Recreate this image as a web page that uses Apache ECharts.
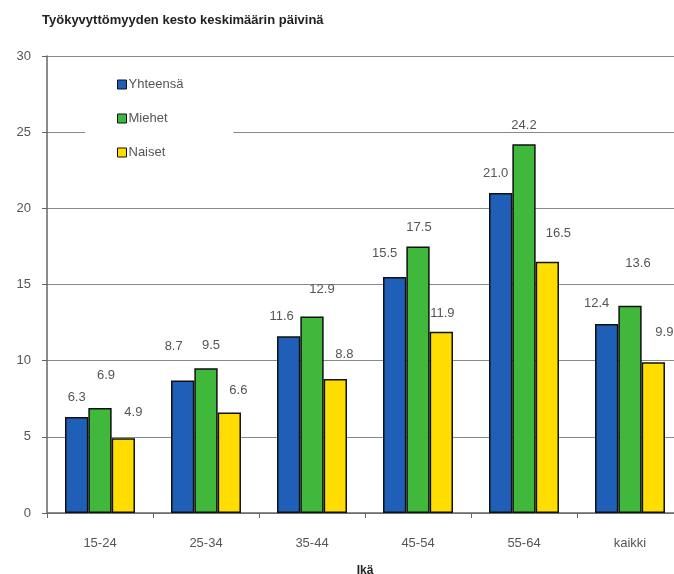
<!DOCTYPE html>
<html>
<head>
<meta charset="utf-8">
<script src="https://cdn.jsdelivr.net/npm/echarts@6/dist/echarts.min.js"></script>
<style>
  html, body { margin: 0; padding: 0; background: #fff; }
  #chart { width: 674px; height: 574px; }
</style>
</head>
<body>
<div id="chart"></div>
<script>
const categories = ['15-24', '25-34', '35-44', '45-54', '55-64', 'kaikki'];
const yhteensa = [6.3, 8.7, 11.6, 15.5, 21.0, 12.4];
const miehet = [6.9, 9.5, 12.9, 17.5, 24.2, 13.6];
const naiset = [4.9, 6.6, 8.8, 11.9, 16.5, 9.9];

// label nudges (px) to mimic the hand-placed Excel labels
const shiftYht = [[0, -8], [-9, -23], [-7, -8], [-10, -12], [-5, -8], [-10, -9]];
const shiftMie = [[6, -21], [5, -11], [10, -16], [1, -7], [0, -7], [8, -31]];
const shiftNai = [[10, -14], [9, -11], [9, -13], [1, -7], [11, -17], [11, -18]];

const font = 'Liberation Sans, Arial, sans-serif';

const makeSeries = (name, values, shifts, color) => ({
  name: name,
  type: 'bar',
  barGap: 0,
  barCategoryGap: '34%',
  itemStyle: { color: color, borderColor: '#111', borderWidth: 1.5 },
  label: {
    show: true,
    position: 'top',
    distance: 5,
    color: '#555',
    fontSize: 13,
    fontFamily: font,
    formatter: p => p.value.toFixed(1)
  },
  data: values.map((v, i) => ({ value: v, label: { offset: shifts[i] } }))
});

const chart = echarts.init(document.getElementById('chart'));

chart.setOption({
  animation: false,
  title: {
    text: 'Työkyvyttömyyden kesto keskimäärin päivinä',
    left: 37,
    top: 9,
    textStyle: { fontSize: 13, fontWeight: 'bold', color: '#222', fontFamily: font }
  },
  legend: {
    orient: 'vertical',
    left: 85,
    top: 66,
    padding: [12, 50, 10, 32],
    itemGap: 21,
    itemWidth: 9,
    itemHeight: 9,
    icon: 'rect',
    backgroundColor: '#fff',
    textStyle: { fontSize: 13, color: '#555', fontFamily: font, padding: [0, 0, 0, -3] },
    itemStyle: { borderColor: '#111', borderWidth: 1 },
    data: ['Yhteensä', 'Miehet', 'Naiset']
  },
  grid: { left: 47, right: -9, top: 56, bottom: 61, outerBoundsMode: 'none' },
  xAxis: {
    type: 'category',
    data: categories,
    name: 'Ikä',
    nameLocation: 'middle',
    nameGap: 52,
    nameTextStyle: { fontSize: 12, fontWeight: 'bold', color: '#222', fontFamily: font },
    axisLine: { lineStyle: { color: '#666', width: 1.5 } },
    axisTick: { show: true, length: 5, lineStyle: { color: '#666' } },
    axisLabel: { color: '#555', fontSize: 13, fontFamily: font, margin: 24 }
  },
  yAxis: {
    type: 'value',
    min: 0,
    max: 30,
    interval: 5,
    axisLine: { show: true, lineStyle: { color: '#666', width: 1.5 } },
    axisTick: { show: true, length: 5, lineStyle: { color: '#666' } },
    axisLabel: { color: '#555', fontSize: 13, fontFamily: font, margin: 16 },
    splitLine: { lineStyle: { color: '#888', width: 1.2 } }
  },
  series: [
    makeSeries('Yhteensä', yhteensa, shiftYht, '#1f5fb8'),
    makeSeries('Miehet', miehet, shiftMie, '#3fb83c'),
    makeSeries('Naiset', naiset, shiftNai, '#ffdd00')
  ]
});
</script>
</body>
</html>
